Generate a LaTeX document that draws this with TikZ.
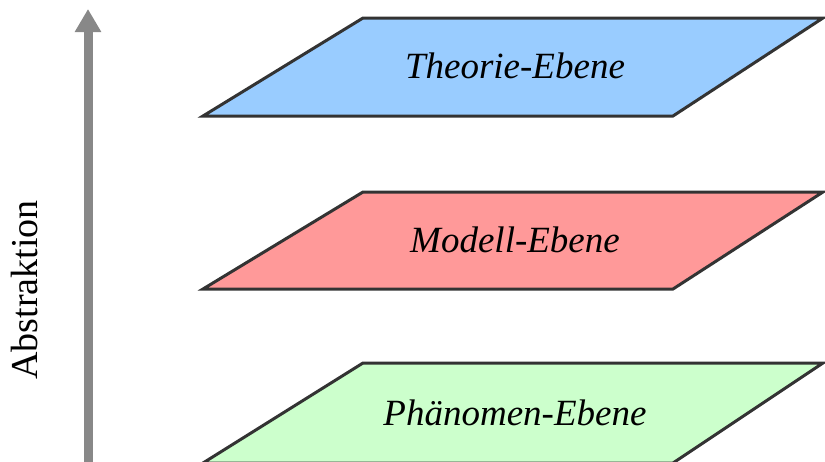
\documentclass[tikz,border=0pt]{standalone}
\usepackage{fontspec}
\setmainfont{Liberation Serif}
\usepackage{tikz}
\usepackage{xcolor}
\usetikzlibrary{arrows.meta,positioning,calc}

\definecolor{theoblue}{HTML}{99CCFF}
\definecolor{modelred}{HTML}{FF9999}
\definecolor{phengreen}{HTML}{CCFFCC}
\definecolor{arrowgray}{HTML}{888888}
\definecolor{edgegray}{HTML}{333333}

\begin{document}
\begin{tikzpicture}[
    x=0.5pt, y=-0.5pt,
    layer/.style={draw=edgegray, line width=1.5pt, line join=miter},
    label/.style={anchor=base, font=\fontsize{18.5}{22}\selectfont\itshape},
    axis/.style={draw=arrowgray, line width=4.5pt, -{Triangle[width=12.5pt,length=11.5pt]}}
]
    \useasboundingbox (0,0) rectangle (825,461);
    \clip (0,0) rectangle (825,461);

    % Levels
    \draw[layer, fill=theoblue] (363,18) -- (823,18) -- (673,116) -- (203,116) -- cycle;
    \draw[layer, fill=modelred] (363,192) -- (823,192) -- (673,289) -- (203,289) -- cycle;
    \draw[layer, fill=phengreen] (363,363) -- (823,363) -- (673,463) -- (203,463) -- cycle;

    \node[label] (theo) at (515,78) {Theorie-Ebene};
    \node[label] (model) at (515,252) {Modell-Ebene};
    \node[label] (phen) at (515,425) {Phänomen-Ebene};

    % Abstraction axis
    \coordinate (low) at (88,470);
    \coordinate (high) at (88,9);
    \draw[axis] (low) -- (high);
    \node[anchor=base, rotate=90, font=\fontsize{19}{22}\selectfont] (abstr) at (38,290) {Abstraktion};
\end{tikzpicture}
\end{document}
